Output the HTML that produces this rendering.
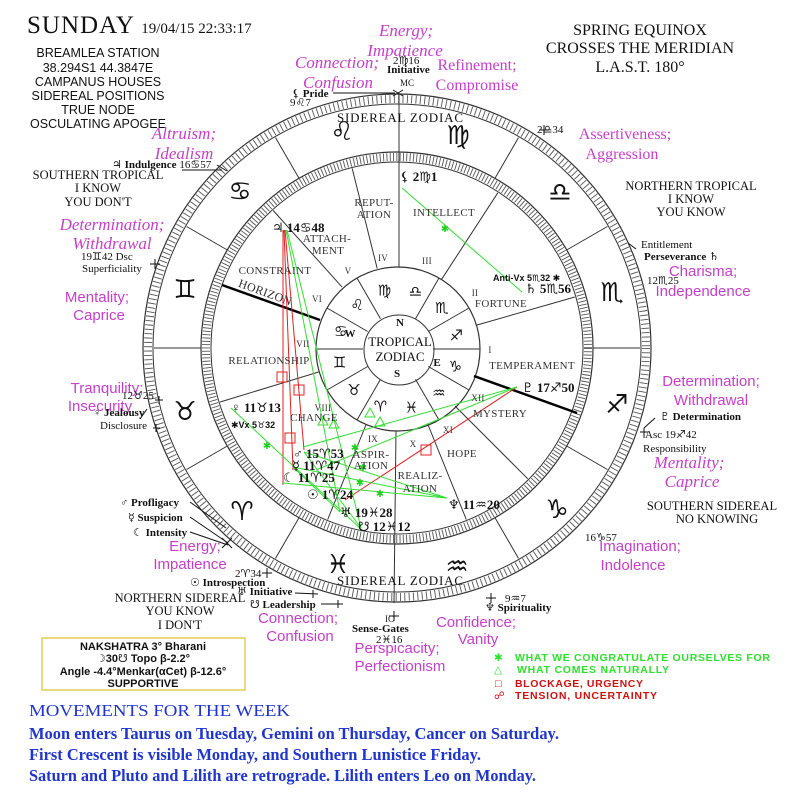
<!DOCTYPE html>
<html><head><meta charset="utf-8"><style>
html,body{margin:0;padding:0;background:#fff;width:798px;height:808px;overflow:hidden}
svg{display:block}
.m{fill:#c440c8;font-family:"Liberation Serif",serif;font-style:italic;font-size:17px}
.ms{fill:#c440c8;font-family:"Liberation Sans",sans-serif;font-size:15px}
.k{fill:#111;font-family:"Liberation Serif","DejaVu Sans",serif;font-size:11px}
.cap{fill:#111;font-family:"Liberation Serif",serif;font-size:12.5px}
.hl{fill:#333;font-family:"Liberation Serif",serif;font-size:11px;letter-spacing:0.3px}
.pl{fill:#111;font-family:"Liberation Serif","DejaVu Sans",serif;font-size:13px;font-weight:bold}
.sg{fill:#111;font-family:"DejaVu Sans",sans-serif;font-size:26px}
.tg{fill:#111;font-family:"DejaVu Sans",sans-serif;font-size:15px}
.st{fill:#22cc22;font-family:"DejaVu Sans",sans-serif;font-size:10px}
.bl{fill:#1f35cc;font-family:"Liberation Serif",serif;font-size:17px;font-weight:bold}
</style></head><body>
<svg width="798" height="808" viewBox="0 0 798 808" xmlns="http://www.w3.org/2000/svg">
<g fill="none" stroke="#333">
<circle cx="397" cy="348" r="254" stroke-width="1.2"/>
<circle cx="397" cy="348" r="249" stroke-width="8" stroke="#555" stroke-dasharray="0.9 3.45"/>
<circle cx="397" cy="348" r="244" stroke-width="1"/>
<circle cx="397" cy="348" r="196" stroke-width="1.2"/>
<circle cx="397" cy="348" r="191" stroke-width="8" stroke="#555" stroke-dasharray="0.9 2.43"/>
<circle cx="397" cy="348" r="186" stroke-width="1"/>
<circle cx="398" cy="349" r="82" stroke-width="1.2"/>
<circle cx="399" cy="350" r="35" stroke-width="1"/>
<path stroke-width="1" d="M593 348L640 348M566.7 250L607.4 226.5M495 178.3L518.5 137.6M299 178.3L275.5 137.6M227.3 250L186.6 226.5M201 348L154 348M227.3 446L186.6 469.5M299 517.7L275.5 558.4M495 517.7L518.5 558.4M566.7 446L607.4 469.5"/>
<path stroke-width="1" d="M399 267L399 94M396 431L394 603"/>
<path stroke-width="1" d="M441.7 279.2L497.8 192.8M475.8 325.4L574.8 297M455 406L527.8 478.8M427.7 424L466.3 519.5M366.3 424L327.7 519.5M318.6 372L220.1 402M342.1 287.1L273.2 210.5M377.2 268.5L352.2 168.5"/>
<path stroke="#000" stroke-width="2.5" d="M474 376L577 413M320 320L222 285"/>
<path stroke-width="1" d="M433 349L480 349M428.3 331.5L469 308M415.5 318.7L439 278M380.5 318.7L357 278M367.7 331.5L327 308M363 349L316 349M367.7 366.5L327 390M380.5 379.3L357 420M415.5 379.3L439 420M428.3 366.5L469 390"/>
</g>
<g fill="none" stroke-width="1">
<path stroke="#e02020" d="M283 230L283 485M284 230L293 470M285 230L304 450M517 387L345 500"/>
<path stroke="#33dd33" d="M286 230L340 512M287 230L361 528M517 387L303 447M517 387L316 470M447 498L283 483M447 498L293 467M447 498L304 452M231 408L362 530M402 188L522 292M361 528L304 452M340 512L293 467"/>
<g stroke="#e02020"><rect x="277" y="372" width="10" height="10"/><rect x="294" y="385" width="10" height="10"/><rect x="285" y="433" width="10" height="10"/><rect x="421" y="445" width="10" height="10"/></g>
<g stroke="#33dd33"><path d="M323 416L318 425L328 425Z M334 419L329 428L339 428Z M370 408L365 417L375 417Z M380 417L375 426L385 426Z"/></g>
</g>
<g class="st" text-anchor="middle"><text x="445" y="232">✱</text><text x="267" y="449">✱</text><text x="360" y="486">✱</text><text x="363" y="471">✱</text><text x="380" y="497">✱</text><text x="355" y="451">✱</text></g>
<g class="sg" text-anchor="middle" dominant-baseline="central">
<text x="240" y="192">♋</text><text x="342" y="132">♌</text><text x="458" y="136">♍</text><text x="560" y="193">♎</text><text x="612" y="293">♏</text><text x="617" y="405">♐</text><text x="557" y="510">♑</text><text x="457" y="567">♒</text><text x="338" y="565">♓</text><text x="242" y="512">♈</text><text x="185" y="412">♉</text><text x="185" y="290">♊</text>
</g>
<g class="tg" text-anchor="middle" dominant-baseline="central">
<text x="384.5" y="290.6">♍</text><text x="415.5" y="291.6">♎</text><text x="441.9" y="308">♏</text><text x="456.4" y="335.5">♐</text><text x="455.4" y="366.5">♑</text><text x="438.9" y="392.9">♒</text><text x="411.5" y="407.4">♓</text><text x="380.5" y="406.4">♈</text><text x="354.1" y="389.9">♉</text><text x="339.6" y="362.5">♊</text><text x="340.6" y="331.5">♋</text><text x="357.1" y="305.1">♌</text>
</g>
<g font-family="Liberation Serif,serif" fill="#111" text-anchor="middle">
<text x="400" y="346" font-size="13">TROPICAL</text><text x="400" y="361" font-size="13">ZODIAC</text>
<text x="400" y="326" font-size="11" font-weight="bold">N</text><text x="350" y="337" font-size="11" font-weight="bold">W</text><text x="437" y="366" font-size="11" font-weight="bold">E</text><text x="397" y="377" font-size="11" font-weight="bold">S</text>
<text x="400" y="122" font-size="13" textLength="126">SIDEREAL ZODIAC</text>
<text x="400" y="585" font-size="13" textLength="126">SIDEREAL ZODIAC</text>
</g>
<g class="hl" text-anchor="middle">
<text x="374" y="206">REPUT-</text><text x="374" y="218">ATION</text>
<text x="444" y="216">INTELLECT</text><text x="427" y="264" font-size="9">III</text><text x="383" y="261" font-size="9">IV</text>
<text x="475" y="296" font-size="9">II</text><text x="501" y="307">FORTUNE</text>
<text x="490" y="353" font-size="9">I</text><text x="532" y="369">TEMPERAMENT</text>
<text x="478" y="401" font-size="9">XII</text><text x="500" y="417">MYSTERY</text>
<text x="448" y="433" font-size="9">XI</text><text x="462" y="457">HOPE</text><text x="413" y="447" font-size="9">X</text>
<text x="420" y="479">REALIZ-</text><text x="420" y="492">ATION</text>
<text x="373" y="442" font-size="9">IX</text><text x="371" y="458">ASPIR-</text><text x="371" y="469">ATION</text>
<text x="323" y="411" font-size="9">VIII</text><text x="314" y="421">CHANGE</text>
<text x="303" y="347" font-size="9">VII</text><text x="269" y="364">RELATIONSHIP</text>
<text x="317" y="302" font-size="9">VI</text><text x="275" y="274">CONSTRAINT</text>
<text x="348" y="274" font-size="9">V</text><text x="327" y="242">ATTACH-</text><text x="328" y="254">MENT</text>
<text x="264" y="296" font-size="12" transform="rotate(20 264 296)">HORIZON</text>
</g>
<g class="pl">
<text x="400" y="181">⚸ 2♍1</text>
<text x="272" y="232">♃ 14♋48</text>
<text x="525" y="293">♄ 5♏56</text>
<text x="493" y="281" font-size="9" font-family="Liberation Sans,DejaVu Sans,sans-serif">Anti-Vx 5♏32 ✱</text>
<text x="522" y="392">♇ 17♐50</text>
<text x="231" y="412">♀ 11♉13</text>
<text x="231" y="428" font-size="9" font-family="Liberation Sans,DejaVu Sans,sans-serif">✱Vx 5♉32</text>
<text x="293" y="458">♂ 15♈53</text>
<text x="292" y="470">☿ 11♈47</text>
<text x="283" y="482">☾ 11♈25</text>
<text x="307" y="499">☉ 1♈24</text>
<text x="340" y="517">♅ 19♓28</text>
<text x="358" y="531">☋ 12♓12</text>
<text x="448" y="509">♆ 11♒20</text>
</g>
<text x="27" y="33" font-family="Liberation Serif,serif" font-size="25" fill="#111" letter-spacing="1">SUNDAY <tspan font-size="15" letter-spacing="0">19/04/15 22:33:17</tspan></text>
<g text-anchor="middle" style="font-family:'Liberation Sans',sans-serif;font-size:12.5px" fill="#111">
<text x="98" y="57">BREAMLEA STATION</text><text x="98" y="72">38.294S1  44.3847E</text><text x="98" y="86">CAMPANUS HOUSES</text><text x="98" y="100">SIDEREAL POSITIONS</text><text x="98" y="114">TRUE NODE</text><text x="98" y="128">OSCULATING APOGEE</text>
</g>
<g font-family="Liberation Serif,serif" font-size="16" fill="#111" text-anchor="middle">
<text x="640" y="35">SPRING EQUINOX</text><text x="640" y="53">CROSSES THE MERIDIAN</text><text x="640" y="72">L.A.S.T. 180°</text>
</g>
<g class="cap" text-anchor="middle">
<text x="98" y="179">SOUTHERN TROPICAL</text><text x="98" y="192">I KNOW</text><text x="98" y="206">YOU DON'T</text>
<text x="691" y="190">NORTHERN TROPICAL</text><text x="691" y="203">I KNOW</text><text x="691" y="216">YOU KNOW</text>
<text x="712" y="510">SOUTHERN SIDEREAL</text><text x="717" y="523">NO KNOWING</text>
<text x="180" y="602">NORTHERN SIDEREAL</text><text x="180" y="615">YOU KNOW</text><text x="180" y="629">I DON'T</text>
</g>
<g class="m" text-anchor="middle">
<text x="406" y="36">Energy;</text><text x="405" y="56">Impatience</text>
<text x="337" y="68">Connection;</text><text x="338" y="88">Confusion</text>
<text x="184" y="139">Altruism;</text><text x="184" y="159">Idealism</text>
<text x="112" y="230">Determination;</text><text x="112" y="249">Withdrawal</text>
<text x="689" y="468">Mentality;</text><text x="692" y="487">Caprice</text>
</g>
<g text-anchor="middle" style="font-family:'Liberation Serif',serif;font-size:16px" fill="#c440c8">
<text x="477" y="70">Refinement;</text><text x="477" y="90">Compromise</text>
<text x="625" y="139">Assertiveness;</text><text x="622" y="159">Aggression</text>
</g>
<g class="ms" text-anchor="middle">
<text x="97" y="302">Mentality;</text><text x="99" y="320">Caprice</text>
<text x="703" y="276">Charisma;</text><text x="703" y="296">Independence</text>
<text x="107" y="393">Tranquility;</text><text x="100" y="411">Insecurity</text>
<text x="711" y="386">Determination;</text><text x="711" y="405">Withdrawal</text>
<text x="195" y="551">Energy;</text><text x="190" y="569">Impatience</text>
<text x="640" y="551">Imagination;</text><text x="633" y="570">Indolence</text>
<text x="298" y="623">Connection;</text><text x="300" y="641">Confusion</text>
<text x="476" y="627">Confidence;</text><text x="478" y="644">Vanity</text>
<text x="397" y="653">Perspicacity;</text><text x="400" y="671">Perfectionism</text>
</g>
<g class="k">
<text x="393" y="64">2♍16</text><text x="387" y="73" font-weight="bold">Initiative</text><text x="400" y="86" font-size="9">MC</text>
<text x="292" y="97" font-weight="bold">⚸ Pride</text><text x="290" y="106">9♌7</text>
<text x="537" y="133">2♎34</text>
<text x="112" y="168" font-weight="bold">♃ Indulgence <tspan font-weight="normal">16♋57</tspan></text>
<text x="81" y="260">19♊42 Dsc</text><text x="82" y="272">Superficiality</text>
<text x="641" y="248">Entitlement</text><text x="644" y="260" font-weight="bold">Perseverance ♄</text>
<text x="647" y="284">12♏25</text>
<text x="122" y="399">12♉25</text><text x="93" y="416" font-weight="bold">♀ Jealousy</text><text x="100" y="429">Disclosure</text>
<text x="660" y="420" font-weight="bold">♇ Determination</text><text x="645" y="438">Asc 19♐42</text><text x="643" y="452">Responsibility</text>
<text x="585" y="541">16♑57</text>
<text x="120" y="506" font-weight="bold">♂ Profligacy</text><text x="128" y="521" font-weight="bold">☿ Suspicion</text><text x="133" y="536" font-weight="bold">☾ Intensity</text>
<text x="235" y="577">2♈34</text><text x="190" y="586" font-weight="bold">☉ Introspection</text><text x="237" y="595" font-weight="bold">♅ Initiative</text><text x="250" y="608" font-weight="bold">☋ Leadership</text>
<text x="505" y="602">9♒7</text><text x="485" y="611" font-weight="bold">♆ Spirituality</text>
<text x="385" y="622" font-size="9">IC</text><text x="352" y="632" font-weight="bold">Sense-Gates</text><text x="376" y="643">2♓16</text>
</g>
<g stroke="#111" stroke-width="1" fill="none">
<path d="M333 93L395 93M393 90L403 96M403 90L393 96"/>
<path d="M182 170L222 170M217 165L227 171"/>
<path d="M628 243L636 249M150 264L160 264M155 259L155 269M155 400L163 400M159 396L159 404M140 419L147 409M153 428L160 428M156 424L156 432"/>
<path d="M655 418L644 428M640 432L648 432M644 428L644 438"/>
<path d="M190 502L226 528M190 517L228 543M190 532L228 545M222 538L232 548M232 538L222 548"/>
<path d="M262 573L272 573M267 568L267 578M295 593L318 594M313 590L313 598M321 604L343 604M338 600L338 608"/>
<path d="M486 598L496 598M491 593L491 603M394 611L394 621M389 616L399 616M539 130L549 130M544 125L544 135"/>
</g>
<rect x="42" y="638" width="203" height="52" fill="none" stroke="#e0c030" stroke-width="1.2"/>
<g font-family="Liberation Sans,DejaVu Sans,sans-serif" font-size="11" font-weight="bold" fill="#111" text-anchor="middle">
<text x="143" y="650">NAKSHATRA 3° Bharani</text><text x="143" y="662">☽30☋ Topo β-2.2°</text><text x="143" y="675">Angle -4.4°Menkar(αCet) β-12.6°</text><text x="143" y="687">SUPPORTIVE</text>
</g>
<g font-family="Liberation Sans,DejaVu Sans,sans-serif" font-size="10.5" font-weight="bold">
<text x="494" y="661" fill="#2ee02e">✱</text><text x="515" y="661" fill="#2ee02e" textLength="255">WHAT WE CONGRATULATE OURSELVES FOR</text>
<text x="494" y="673" fill="#2ee02e" font-weight="normal">△</text><text x="517" y="673" fill="#2ee02e" textLength="152">WHAT COMES NATURALLY</text>
<text x="495" y="687" fill="#cc1111" font-weight="normal">□</text><text x="515" y="687" fill="#cc1111" textLength="128">BLOCKAGE, URGENCY</text>
<text x="494" y="699" fill="#cc1111" font-weight="normal">☍</text><text x="515" y="699" fill="#cc1111" textLength="142">TENSION, UNCERTAINTY</text>
</g>
<g class="bl">
<text x="29" y="716" textLength="261" lengthAdjust="spacingAndGlyphs" font-size="17" font-weight="normal">MOVEMENTS FOR THE WEEK</text>
<text x="29" y="739" textLength="530" lengthAdjust="spacingAndGlyphs">Moon enters Taurus on Tuesday, Gemini on Thursday, Cancer on Saturday.</text>
<text x="29" y="760" textLength="452" lengthAdjust="spacingAndGlyphs">First Crescent is visible Monday, and Southern Lunistice Friday.</text>
<text x="29" y="781" textLength="507" lengthAdjust="spacingAndGlyphs">Saturn and Pluto and Lilith are retrograde.  Lilith enters Leo on Monday.</text>
</g>
</svg>
</body></html>
